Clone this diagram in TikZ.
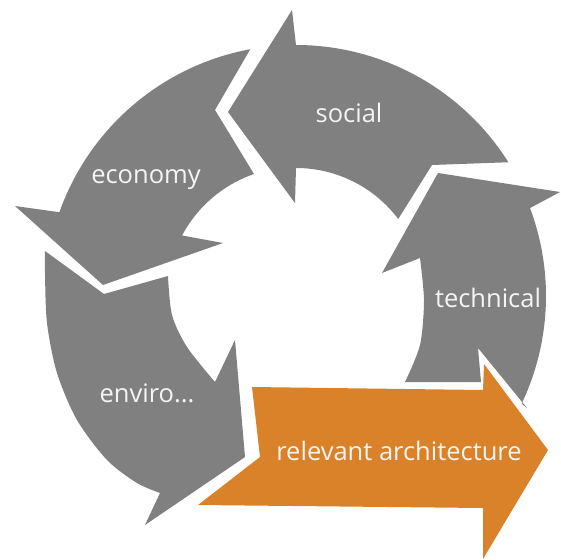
\documentclass[tikz,border=0pt]{standalone}
\usepackage{fontspec}
\setmainfont{Open Sans}
\usetikzlibrary{calc}
\definecolor{cyclegray}{HTML}{808080}
\definecolor{archorange}{HTML}{DA8229}
\definecolor{textwhite}{HTML}{F4F4F4}

\begin{document}
\begin{tikzpicture}[x=1pt, y=-1pt,
  cyclearrow/.style={fill=cyclegray},
  arrowtext/.style={text=textwhite, anchor=base, font=\fontsize{25.5}{29}\selectfont}]

  \useasboundingbox (0,0) rectangle (561,559);
  \coordinate (C) at (296,296);  % centre of the ring

  % ---- social (top, pointing left) ----
  \fill[cyclearrow] (228,112) -- (292,10) -- ($(C)+(-90:251)$)
    arc[start angle=-90, end angle=-32.2, radius=251]
    -- (432,165) -- ($(C)+(-37:128)$)
    arc[start angle=-37, end angle=-90, radius=128]
    -- (295,203) -- cycle;

  % ---- economy (upper left, pointing down) ----
  \fill[cyclearrow] ($(C)+(259.5:251)$)
    arc[start angle=259.5, end angle=199.5, radius=251]
    -- (15,206) -- (103,285) -- (223,243) -- ($(C)+(208:129)$)
    arc[start angle=208, end angle=251, radius=129]
    -- (215,110) -- cycle;

  % ---- enviro (lower left, pointing down right) ----
  \fill[cyclearrow]
    plot[smooth] coordinates {(45,251) (45,273) (47,323) (57,373) (77,420) (107,460) (137,483) (160,493)}
    -- (145,525) -- (245,457) -- (235,340)
    -- plot[smooth] coordinates {(215,382) (187,347) (172,315) (168,276)}
    -- (104,294) -- cycle;

  % ---- technical (right, pointing up) ----
  \fill[cyclearrow] (438,173) -- (560,192) -- ($(C)+(-20.6:250)$)
    arc[start angle=-20.6, end angle=25.5, radius=250]
    -- (527,408) -- (478,348) -- (481,382)
    -- (405,382)
    -- plot[smooth] coordinates {(405,382) (414,362) (421,340) (424,300) (420,258)}
    -- (382,273) -- cycle;

  % ---- relevant architecture (straight, pointing right) ----
  \fill[archorange] (252,387) -- (483,390) -- (484,364) -- (548,450)
    -- (483,559) -- (483,508) -- (198,505) -- (260,457) -- cycle;

  % ---- Labels ----
  \node[arrowtext] (social) at (349,122) {social};
  \node[arrowtext] (economy) at (146,183) {economy};
  \node[arrowtext] (technical) at (488,307) {technical};
  \node[arrowtext] (enviro) at (147,402) {enviro...};
  \node[arrowtext] (archi) at (399,460) {relevant architecture};

\end{tikzpicture}
\end{document}
